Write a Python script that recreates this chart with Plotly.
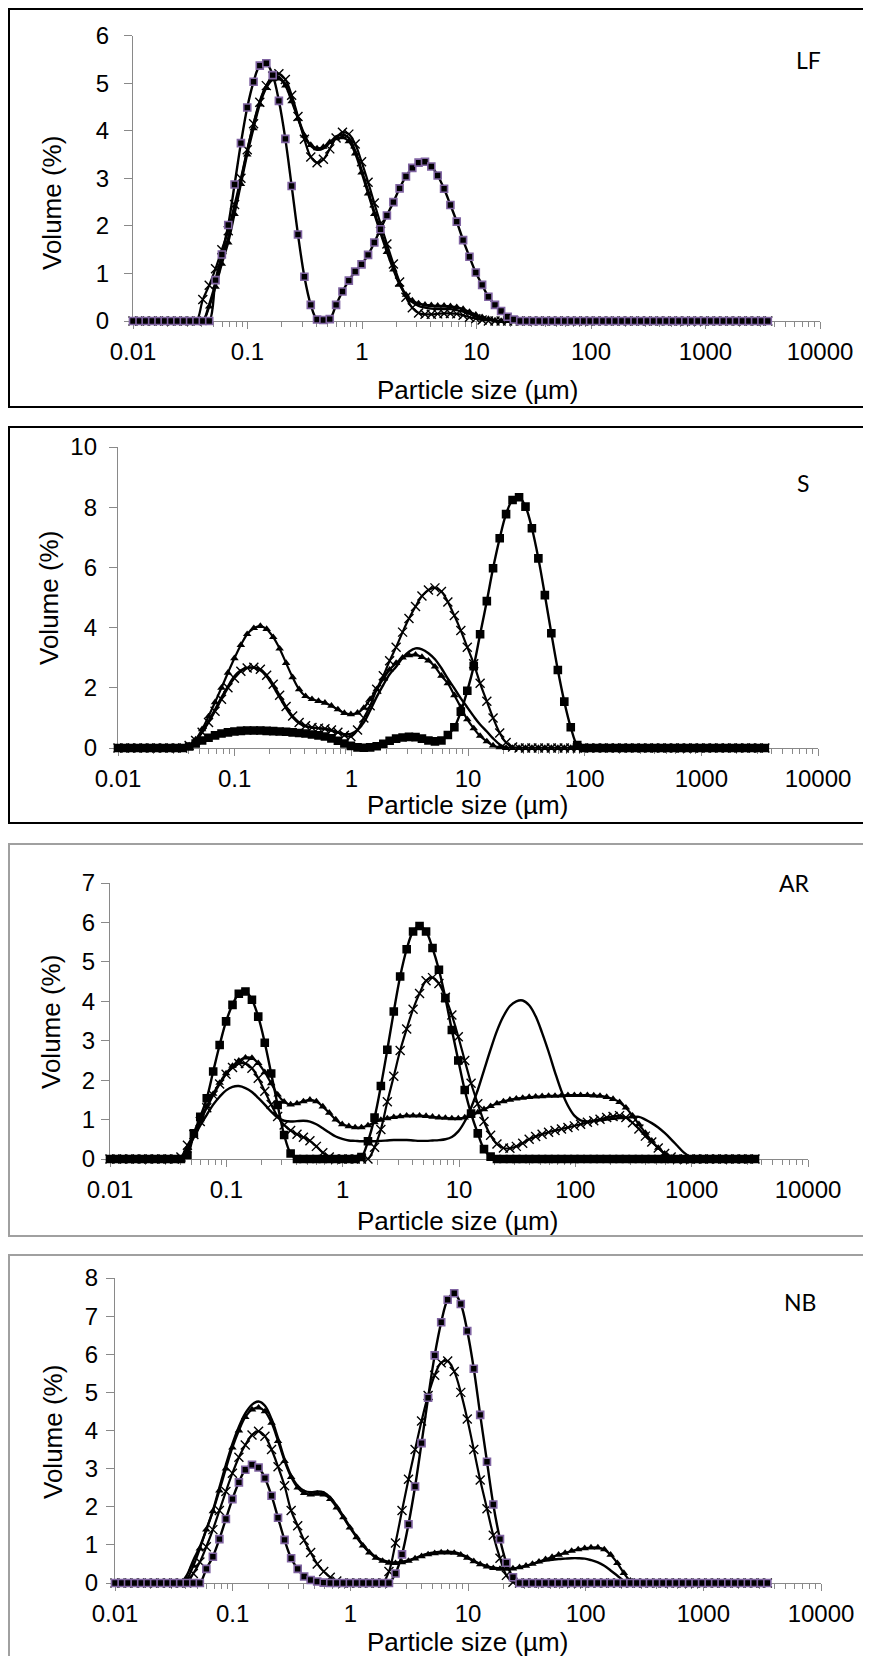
import plotly.graph_objects as go

W, H = 871, 1656
PAGE_OFFSET = 8  # default body margin of the html page

# Particle size classes (µm)
size_um = [
    0.0100, 0.0114, 0.0129, 0.0147, 0.0167, 0.0189, 0.0215, 0.0244, 0.0278, 0.0315,
    0.0358, 0.0407, 0.0463, 0.0526, 0.0597, 0.0679, 0.0771, 0.0876, 0.0995, 0.113,
    0.128, 0.146, 0.166, 0.188, 0.214, 0.243, 0.276, 0.314, 0.357, 0.405,
    0.460, 0.523, 0.594, 0.675, 0.767, 0.872, 0.991, 1.13, 1.28, 1.45,
    1.65, 1.88, 2.13, 2.42, 2.75, 3.12, 3.55, 4.03, 4.58, 5.21,
    5.92, 6.72, 7.64, 8.68, 9.86, 11.2, 12.7, 14.5, 16.4, 18.7,
    21.2, 24.1, 27.4, 31.1, 35.3, 40.1, 45.6, 51.8, 58.9, 66.9,
    76.0, 86.4, 98.1, 111, 127, 144, 163, 186, 211, 240,
    272, 310, 352, 400, 454, 516, 586, 666, 756, 859,
    976, 1110, 1260, 1430, 1630, 1850, 2100, 2390, 2710, 3080,
    3500,
]

# ---------------- LF ----------------
LF_sq = [
    0, 0, 0, 0, 0, 0, 0, 0, 0, 0,
    0, 0, 0, 0.86, 1.40, 2.02, 2.87, 3.74, 4.49, 5.03,
    5.37, 5.42, 5.17, 4.63, 3.83, 2.84, 1.82, 0.93, 0.34, 0.03,
    0.02, 0.04, 0.34, 0.62, 0.85, 1.04, 1.19, 1.39, 1.65, 1.93,
    2.22, 2.50, 2.79, 3.04, 3.22, 3.33, 3.35, 3.25, 3.06, 2.78,
    2.44, 2.09, 1.70, 1.35, 1.02, 0.76, 0.51, 0.34, 0.21, 0.09,
    0.03, 0, 0, 0, 0, 0, 0, 0, 0, 0,
    0, 0, 0, 0, 0, 0, 0, 0, 0, 0,
    0, 0, 0, 0, 0, 0, 0, 0, 0, 0,
    0, 0, 0, 0, 0, 0, 0, 0, 0, 0,
    0,
]
LF_line = [
    0, 0, 0, 0, 0, 0, 0, 0, 0, 0,
    0, 0, 0.35, 0.80, 1.30, 1.75, 2.35, 2.95, 3.58, 4.15,
    4.62, 4.95, 5.12, 5.12, 4.98, 4.66, 4.28, 3.92, 3.68, 3.60,
    3.63, 3.75, 3.88, 3.92, 3.85, 3.58, 3.18, 2.74, 2.30, 1.90,
    1.50, 1.12, 0.80, 0.55, 0.40, 0.32, 0.28, 0.26, 0.25, 0.25,
    0.25, 0.23, 0.20, 0.15, 0.10, 0.06, 0.03, 0, 0, 0,
    0, 0, 0, 0, 0, 0, 0, 0, 0, 0,
    0, 0, 0, 0, 0, 0, 0, 0, 0, 0,
    0, 0, 0, 0, 0, 0, 0, 0, 0, 0,
    0, 0, 0, 0, 0, 0, 0, 0, 0, 0,
    0,
]
LF_tri = [
    0, 0, 0, 0, 0, 0, 0, 0, 0, 0,
    0, 0, 0.30, 0.72, 1.20, 1.65, 2.25, 2.88, 3.50, 4.05,
    4.55, 4.90, 5.08, 5.10, 4.95, 4.62, 4.25, 3.90, 3.70, 3.63,
    3.66, 3.76, 3.84, 3.86, 3.78, 3.52, 3.12, 2.68, 2.25, 1.85,
    1.45, 1.08, 0.76, 0.55, 0.43, 0.37, 0.34, 0.33, 0.32, 0.32,
    0.31, 0.29, 0.25, 0.19, 0.13, 0.08, 0.04, 0.01, 0, 0,
    0, 0, 0, 0, 0, 0, 0, 0, 0, 0,
    0, 0, 0, 0, 0, 0, 0, 0, 0, 0,
    0, 0, 0, 0, 0, 0, 0, 0, 0, 0,
    0, 0, 0, 0, 0, 0, 0, 0, 0, 0,
    0,
]
LF_x = [
    0, 0, 0, 0, 0, 0, 0, 0, 0, 0,
    0, 0.45, 0.75, 1.10, 1.50, 1.90, 2.45, 3.00, 3.60, 4.15,
    4.60, 4.95, 5.15, 5.20, 5.08, 4.75, 4.30, 3.82, 3.45, 3.33,
    3.40, 3.62, 3.85, 3.97, 3.93, 3.72, 3.35, 2.92, 2.48, 2.05,
    1.62, 1.20, 0.82, 0.50, 0.28, 0.17, 0.14, 0.14, 0.15, 0.16,
    0.16, 0.15, 0.12, 0.08, 0.05, 0.02, 0, 0, 0, 0,
    0, 0, 0, 0, 0, 0, 0, 0, 0, 0,
    0, 0, 0, 0, 0, 0, 0, 0, 0, 0,
    0, 0, 0, 0, 0, 0, 0, 0, 0, 0,
    0, 0, 0, 0, 0, 0, 0, 0, 0, 0,
    0,
]

# ---------------- S ----------------
S_sq = [
    0, 0, 0, 0, 0, 0, 0, 0, 0, 0,
    0, 0.05, 0.15, 0.25, 0.34, 0.42, 0.48, 0.52, 0.55, 0.57,
    0.58, 0.58, 0.58, 0.57, 0.56, 0.55, 0.54, 0.52, 0.50, 0.48,
    0.45, 0.42, 0.38, 0.32, 0.24, 0.15, 0.07, 0.02, 0.01, 0.02,
    0.06, 0.14, 0.24, 0.31, 0.35, 0.37, 0.36, 0.31, 0.25, 0.22,
    0.25, 0.43, 0.69, 1.21, 1.90, 2.72, 3.78, 4.88, 5.97, 6.97,
    7.77, 8.24, 8.33, 8.02, 7.30, 6.30, 5.08, 3.81, 2.59, 1.54,
    0.69, 0.10, 0, 0, 0, 0, 0, 0, 0, 0,
    0, 0, 0, 0, 0, 0, 0, 0, 0, 0,
    0, 0, 0, 0, 0, 0, 0, 0, 0, 0,
    0,
]
S_line = [
    0, 0, 0, 0, 0, 0, 0, 0, 0, 0,
    0, 0.06, 0.25, 0.52, 0.88, 1.28, 1.68, 2.05, 2.38, 2.58,
    2.66, 2.66, 2.58, 2.38, 2.05, 1.68, 1.32, 1.02, 0.82, 0.72,
    0.68, 0.66, 0.63, 0.58, 0.51, 0.46, 0.47, 0.60, 0.85, 1.25,
    1.70, 2.10, 2.45, 2.70, 3.00, 3.20, 3.31, 3.28, 3.15, 2.95,
    2.65, 2.30, 1.98, 1.65, 1.35, 1.05, 0.78, 0.55, 0.32, 0.12,
    0.02, 0, 0, 0, 0, 0, 0, 0, 0, 0,
    0, 0, 0, 0, 0, 0, 0, 0, 0, 0,
    0, 0, 0, 0, 0, 0, 0, 0, 0, 0,
    0, 0, 0, 0, 0, 0, 0, 0, 0, 0,
    0,
]
S_tri = [
    0, 0, 0, 0, 0, 0, 0, 0, 0, 0,
    0, 0.08, 0.28, 0.62, 1.05, 1.52, 2.00, 2.50, 2.98, 3.42,
    3.78, 3.98, 4.05, 3.95, 3.68, 3.30, 2.82, 2.35, 1.95, 1.72,
    1.62, 1.56, 1.50, 1.40, 1.28, 1.16, 1.12, 1.17, 1.33, 1.62,
    1.95, 2.30, 2.60, 2.82, 3.00, 3.08, 3.10, 3.02, 2.90, 2.70,
    2.40, 2.15, 1.75, 1.35, 0.95, 0.65, 0.40, 0.22, 0.08, 0.02,
    0, 0, 0, 0, 0, 0, 0, 0, 0, 0,
    0, 0, 0, 0, 0, 0, 0, 0, 0, 0,
    0, 0, 0, 0, 0, 0, 0, 0, 0, 0,
    0, 0, 0, 0, 0, 0, 0, 0, 0, 0,
    0,
]
S_x = [
    0, 0, 0, 0, 0, 0, 0, 0, 0, 0,
    0, 0.08, 0.25, 0.52, 0.85, 1.22, 1.62, 2.00, 2.32, 2.55,
    2.66, 2.68, 2.62, 2.42, 2.12, 1.75, 1.38, 1.06, 0.85, 0.74,
    0.68, 0.66, 0.64, 0.60, 0.52, 0.42, 0.38, 0.60, 1.00, 1.40,
    1.95, 2.40, 2.90, 3.35, 3.85, 4.30, 4.70, 5.05, 5.25, 5.32,
    5.20, 4.85, 4.40, 3.90, 3.35, 2.80, 2.15, 1.55, 1.00, 0.50,
    0.18, 0.03, 0, 0, 0, 0, 0, 0, 0, 0,
    0, 0, 0, 0, 0, 0, 0, 0, 0, 0,
    0, 0, 0, 0, 0, 0, 0, 0, 0, 0,
    0, 0, 0, 0, 0, 0, 0, 0, 0, 0,
    0,
]

# ---------------- AR ----------------
AR_sq = [
    0, 0, 0, 0, 0, 0, 0, 0, 0, 0,
    0, 0, 0.10, 0.65, 1.07, 1.54, 2.22, 2.89, 3.49, 3.91,
    4.19, 4.25, 4.04, 3.61, 2.95, 2.17, 1.37, 0.61, 0.14, 0,
    0, 0, 0, 0, 0, 0, 0, 0, 0, 0.05,
    0.45, 1.05, 1.85, 2.77, 3.74, 4.63, 5.32, 5.77, 5.91, 5.77,
    5.35, 4.80, 4.08, 3.27, 2.50, 1.75, 1.15, 0.65, 0.25, 0.06,
    0, 0, 0, 0, 0, 0, 0, 0, 0, 0,
    0, 0, 0, 0, 0, 0, 0, 0, 0, 0,
    0, 0, 0, 0, 0, 0, 0, 0, 0, 0,
    0, 0, 0, 0, 0, 0, 0, 0, 0, 0,
    0,
]
AR_line = [
    0, 0, 0, 0, 0, 0, 0, 0, 0, 0,
    0, 0, 0.25, 0.55, 0.85, 1.12, 1.38, 1.58, 1.74, 1.83,
    1.85, 1.80, 1.70, 1.55, 1.38, 1.20, 1.05, 0.97, 0.95, 0.96,
    0.97, 0.95, 0.88, 0.78, 0.67, 0.57, 0.51, 0.47, 0.46, 0.45,
    0.45, 0.45, 0.46, 0.47, 0.48, 0.48, 0.48, 0.47, 0.46, 0.46,
    0.47, 0.48, 0.50, 0.56, 0.70, 0.95, 1.30, 1.75, 2.25, 2.78,
    3.25, 3.62, 3.88, 4.00, 4.02, 3.90, 3.62, 3.20, 2.72, 2.20,
    1.72, 1.35, 1.10, 0.98, 0.95, 0.96, 0.98, 1.00, 1.02, 1.04,
    1.05, 1.06, 1.07, 1.00, 0.91, 0.80, 0.66, 0.50, 0.33, 0.16,
    0.05, 0, 0, 0, 0, 0, 0, 0, 0, 0,
    0,
]
AR_tri = [
    0, 0, 0, 0, 0, 0, 0, 0, 0, 0,
    0, 0, 0.20, 0.60, 0.98, 1.33, 1.65, 1.93, 2.17, 2.36,
    2.49, 2.57, 2.56, 2.43, 2.20, 1.92, 1.63, 1.45, 1.38, 1.41,
    1.46, 1.50, 1.46, 1.33, 1.17, 1.00, 0.88, 0.83, 0.80, 0.80,
    0.85, 0.93, 0.99, 1.03, 1.06, 1.08, 1.10, 1.10, 1.10, 1.09,
    1.07, 1.05, 1.04, 1.03, 1.03, 1.05, 1.10, 1.18, 1.26, 1.34,
    1.41, 1.46, 1.50, 1.53, 1.55, 1.57, 1.58, 1.59, 1.60, 1.60,
    1.61, 1.62, 1.62, 1.62, 1.62, 1.61, 1.60, 1.57, 1.52, 1.44,
    1.30, 1.10, 0.88, 0.66, 0.46, 0.28, 0.13, 0.03, 0, 0,
    0, 0, 0, 0, 0, 0, 0, 0, 0, 0,
    0,
]
AR_x = [
    0, 0, 0, 0, 0, 0, 0, 0, 0, 0,
    0, 0.05, 0.35, 0.62, 0.95, 1.30, 1.62, 1.90, 2.15, 2.32,
    2.42, 2.42, 2.30, 2.05, 1.72, 1.38, 1.08, 0.86, 0.72, 0.63,
    0.55, 0.46, 0.32, 0.16, 0.05, 0, 0, 0, 0, 0,
    0, 0.30, 0.75, 1.45, 2.10, 2.75, 3.30, 3.80, 4.20, 4.52,
    4.60, 4.45, 4.10, 3.65, 3.10, 2.50, 1.92, 1.40, 0.95, 0.60,
    0.38, 0.28, 0.27, 0.32, 0.40, 0.50, 0.57, 0.63, 0.68, 0.72,
    0.76, 0.80, 0.84, 0.88, 0.93, 0.97, 1.01, 1.05, 1.08, 1.10,
    1.05, 0.92, 0.76, 0.58, 0.43, 0.28, 0.14, 0.05, 0, 0,
    0, 0, 0, 0, 0, 0, 0, 0, 0, 0,
    0,
]

# ---------------- NB ----------------
NB_sq = [
    0, 0, 0, 0, 0, 0, 0, 0, 0, 0,
    0, 0, 0, 0, 0.37, 0.69, 1.15, 1.68, 2.20, 2.64,
    2.97, 3.10, 3.03, 2.75, 2.29, 1.71, 1.13, 0.65, 0.37, 0.17,
    0.08, 0.04, 0.01, 0, 0, 0, 0, 0, 0, 0,
    0, 0, 0, 0.25, 0.75, 1.54, 2.53, 3.67, 4.86, 5.97,
    6.84, 7.43, 7.60, 7.32, 6.61, 5.62, 4.41, 3.18, 2.06, 1.15,
    0.53, 0.15, 0, 0, 0, 0, 0, 0, 0, 0,
    0, 0, 0, 0, 0, 0, 0, 0, 0, 0,
    0, 0, 0, 0, 0, 0, 0, 0, 0, 0,
    0, 0, 0, 0, 0, 0, 0, 0, 0, 0,
    0,
]
NB_line = [
    0, 0, 0, 0, 0, 0, 0, 0, 0, 0,
    0, 0.20, 0.60, 0.95, 1.40, 1.90, 2.50, 3.10, 3.65, 4.10,
    4.45, 4.68, 4.76, 4.65, 4.30, 3.80, 3.25, 2.82, 2.55, 2.42,
    2.38, 2.40, 2.38, 2.25, 2.02, 1.75, 1.48, 1.22, 1.00, 0.82,
    0.68, 0.60, 0.55, 0.53, 0.55, 0.59, 0.65, 0.72, 0.77, 0.80,
    0.82, 0.82, 0.81, 0.76, 0.68, 0.58, 0.50, 0.44, 0.40, 0.38,
    0.37, 0.38, 0.41, 0.45, 0.50, 0.55, 0.59, 0.61, 0.63, 0.64,
    0.65, 0.65, 0.64, 0.60, 0.54, 0.45, 0.33, 0.19, 0.06, 0,
    0, 0, 0, 0, 0, 0, 0, 0, 0, 0,
    0, 0, 0, 0, 0, 0, 0, 0, 0, 0,
    0,
]
NB_tri = [
    0, 0, 0, 0, 0, 0, 0, 0, 0, 0,
    0, 0.10, 0.45, 0.90, 1.40, 1.88, 2.42, 3.00, 3.55, 4.00,
    4.35, 4.55, 4.60, 4.50, 4.20, 3.72, 3.20, 2.78, 2.50, 2.36,
    2.32, 2.34, 2.32, 2.20, 1.98, 1.72, 1.45, 1.20, 0.98, 0.80,
    0.66, 0.58, 0.53, 0.52, 0.54, 0.58, 0.64, 0.70, 0.75, 0.78,
    0.80, 0.80, 0.79, 0.74, 0.66, 0.57, 0.49, 0.43, 0.39, 0.37,
    0.37, 0.38, 0.41, 0.45, 0.50, 0.56, 0.62, 0.68, 0.74, 0.79,
    0.84, 0.88, 0.91, 0.93, 0.93, 0.88, 0.74, 0.52, 0.26, 0.06,
    0, 0, 0, 0, 0, 0, 0, 0, 0, 0,
    0, 0, 0, 0, 0, 0, 0, 0, 0, 0,
    0,
]
NB_x = [
    0, 0, 0, 0, 0, 0, 0, 0, 0, 0,
    0, 0, 0.25, 0.55, 0.95, 1.40, 1.90, 2.40, 2.88, 3.30,
    3.62, 3.88, 3.98, 3.85, 3.50, 3.05, 2.55, 1.90, 1.50, 1.12,
    0.80, 0.50, 0.30, 0.15, 0.05, 0, 0, 0, 0, 0,
    0, 0, 0.30, 1.05, 1.90, 2.72, 3.50, 4.25, 4.92, 5.45,
    5.78, 5.82, 5.55, 5.00, 4.30, 3.50, 2.70, 1.95, 1.25, 0.65,
    0.20, 0.02, 0, 0, 0, 0, 0, 0, 0, 0,
    0, 0, 0, 0, 0, 0, 0, 0, 0, 0,
    0, 0, 0, 0, 0, 0, 0, 0, 0, 0,
    0, 0, 0, 0, 0, 0, 0, 0, 0, 0,
    0,
]

x_tick_vals = [0.01, 0.1, 1, 10, 100, 1000, 10000]
x_tick_text = ["0.01", "0.1", "1", "10", "100", "1000", "10000"]
x_title = "Particle size (µm)"
y_title = "Volume (%)"

for arr in [LF_sq, LF_line, LF_tri, LF_x, S_sq, S_line, S_tri, S_x,
            AR_sq, AR_line, AR_tri, AR_x, NB_sq, NB_line, NB_tri, NB_x]:
    assert len(arr) == len(size_um), len(arr)

# layout geometry, in pixels of the 871x1656 page (frame bottom None = open at page bottom)
panels = [
    dict(label="LF", series=(LF_line, LF_x, LF_tri, LF_sq), sq_edge="#8064A2",
         ymax=6, dtick=1, xpx=(133, 820), ypx=(321, 35.7), ystand=10,
         frame=(9, 9, 868, 407), fcolor="black",
         lab=(808, 60), ytit=(52, 203), xtit=(477, 390)),
    dict(label="S", series=(S_line, S_x, S_tri, S_sq), sq_edge="black",
         ymax=10, dtick=2, xpx=(118, 818), ypx=(748, 447), ystand=7,
         frame=(9, 427, 868, 823), fcolor="black",
         lab=(803, 483), ytit=(49, 598), xtit=(467, 805)),
    dict(label="AR", series=(AR_line, AR_x, AR_tri, AR_sq), sq_edge="black",
         ymax=7, dtick=1, xpx=(110, 808), ypx=(1159, 883), ystand=1,
         frame=(9, 844, 867, 1236), fcolor="#a0a0a0",
         lab=(794, 883), ytit=(51, 1022), xtit=(458, 1221)),
    dict(label="NB", series=(NB_line, NB_x, NB_tri, NB_sq), sq_edge="#8064A2",
         ymax=8, dtick=1, xpx=(115, 821), ypx=(1583, 1278), ystand=3,
         frame=(9, 1255, 867, None), fcolor="#a0a0a0",
         lab=(800, 1302), ytit=(53, 1432), xtit=(467, 1642)),
]

def fx(px):
    return (px - PAGE_OFFSET) / W

def fy(py):
    return 1 - (py - PAGE_OFFSET) / H

AX = "#898989"
TICKFONT = dict(family="Liberation Sans, Arial, sans-serif", size=24, color="black")
TITLEFONT = dict(family="Liberation Sans, Arial, sans-serif", size=26, color="black")
minor_vals = [k * 10.0 ** e for e in range(-2, 4) for k in range(2, 10)]

fig = go.Figure()
layout = dict(width=W, height=H, margin=dict(l=0, r=0, t=0, b=0, autoexpand=False),
              paper_bgcolor="white", plot_bgcolor="white", showlegend=False)
shapes, annotations = [], []

for n, p in enumerate(panels, start=1):
    xa = "x" if n == 1 else f"x{n}"
    ya = "y" if n == 1 else f"y{n}"
    xkey = "xaxis" if n == 1 else f"xaxis{n}"
    ykey = "yaxis" if n == 1 else f"yaxis{n}"
    layout[xkey] = dict(
        type="log", range=[-2, 4], domain=[fx(p["xpx"][0]), fx(p["xpx"][1])],
        anchor=ya, showline=True, linecolor=AX, linewidth=1.3,
        ticks="outside", ticklen=7, tickwidth=1, tickcolor=AX,
        tickmode="array", tickvals=x_tick_vals, ticktext=x_tick_text,
        minor=dict(ticks="outside", ticklen=5, tickwidth=1, tickcolor=AX,
                   tickmode="array", tickvals=minor_vals, showgrid=False),
        showgrid=False, zeroline=False, tickfont=TICKFONT, automargin=False,
        layer="below traces", ticklabelstandoff=2, fixedrange=True,
    )
    layout[ykey] = dict(
        range=[0, p["ymax"]], domain=[fy(p["ypx"][0]), fy(p["ypx"][1])],
        anchor=xa, showline=True, linecolor=AX, linewidth=1.3,
        ticks="outside", ticklen=8, tickwidth=1, tickcolor=AX,
        tick0=0, dtick=p["dtick"], showgrid=False, zeroline=False,
        tickfont=TICKFONT, layer="below traces", ticklabelstandoff=p["ystand"],
        automargin=False, fixedrange=True,
    )
    line_v, x_v, tri_v, sq_v = p["series"]
    common = dict(x=size_um, xaxis=xa, yaxis=ya, cliponaxis=False,
                  hoverinfo="skip", showlegend=False)
    fig.add_trace(go.Scatter(y=line_v, mode="lines",
                             line=dict(color="black", width=2.4, shape="spline"), **common))
    fig.add_trace(go.Scatter(y=x_v, mode="lines+markers",
                             line=dict(color="black", width=2.2, shape="spline"),
                             marker=dict(symbol="x-thin", size=9, color="black",
                                         line=dict(width=1.4, color="black")), **common))
    fig.add_trace(go.Scatter(y=tri_v, mode="lines+markers",
                             line=dict(color="black", width=2.2, shape="spline"),
                             marker=dict(symbol="triangle-up", size=7.5, color="black",
                                         line=dict(width=0)), **common))
    fig.add_trace(go.Scatter(y=sq_v, mode="lines+markers",
                             line=dict(color="black", width=2.4, shape="spline"),
                             marker=dict(symbol="square", size=7, color="black",
                                         line=dict(width=1.6, color=p["sq_edge"])), **common))

    x0, y0, x1, y1 = p["frame"]
    if y1 is not None:
        shapes.append(dict(type="rect", xref="paper", yref="paper",
                           x0=fx(x0), x1=fx(x1), y0=fy(y1), y1=fy(y0),
                           line=dict(color=p["fcolor"], width=2), layer="below"))
    else:
        path = "M {a},{b} L {a},{c} L {d},{c} L {d},{b}".format(
            a=fx(x0), b=0.0, c=fy(y0), d=fx(x1))
        shapes.append(dict(type="path", xref="paper", yref="paper", path=path,
                           line=dict(color=p["fcolor"], width=2), layer="below"))
    annotations.append(dict(text=p["label"], xref="paper", yref="paper",
                            x=fx(p["lab"][0]), y=fy(p["lab"][1]), showarrow=False,
                            xanchor="center", yanchor="middle",
                            font=dict(family="Lato, Open Sans, sans-serif", size=23, color="black")))
    annotations.append(dict(text=y_title, xref="paper", yref="paper", textangle=-90,
                            x=fx(p["ytit"][0]), y=fy(p["ytit"][1]), showarrow=False,
                            xanchor="center", yanchor="middle", font=TITLEFONT))
    annotations.append(dict(text=x_title, xref="paper", yref="paper",
                            x=fx(p["xtit"][0]), y=fy(p["xtit"][1]), showarrow=False,
                            xanchor="center", yanchor="middle", font=TITLEFONT))

layout["shapes"] = shapes
layout["annotations"] = annotations
fig.update_layout(**layout)
fig.write_html("out.html", config={"displayModeBar": False})
